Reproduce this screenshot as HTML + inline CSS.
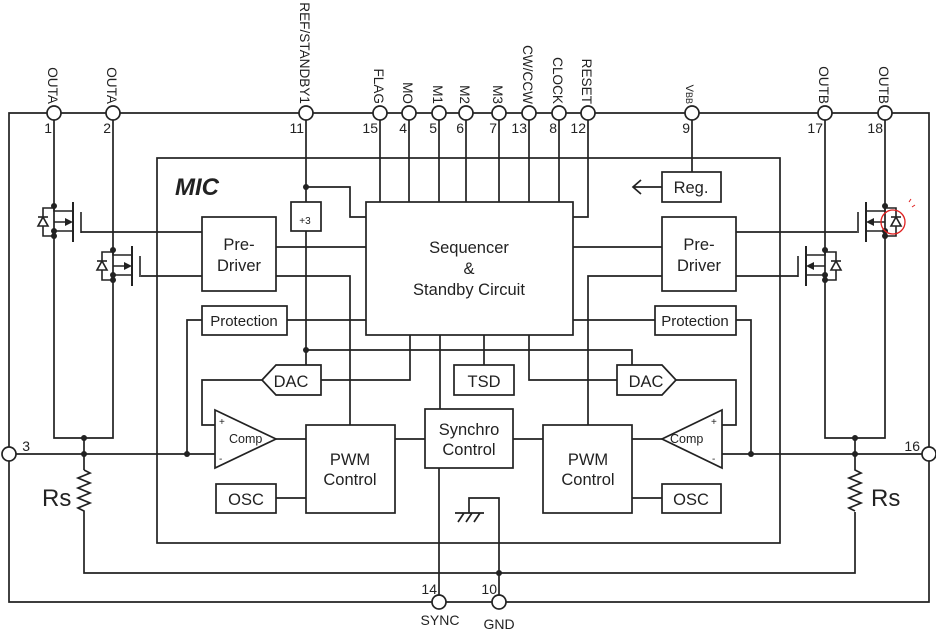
<!DOCTYPE html>
<html><head><meta charset="utf-8"><style>
html,body{margin:0;padding:0;background:#fff;}
svg{display:block;}
text{font-family:"Liberation Sans",sans-serif;fill:#222;}
</style></head><body>
<svg width="936" height="630" viewBox="0 0 936 630" xmlns="http://www.w3.org/2000/svg">
<defs>
<g id="mos" fill="none" stroke="#222" stroke-width="1.6">
  <path d="M0,0 V5 H19 M0,25 H19 M0,16 H12"/>
  <polygon points="19,16 11,12 11,20" fill="#222" stroke="none"/>
  <path d="M19,-4 V36" stroke-width="2"/>
  <path d="M27,6 V27"/>
  <path d="M0,2 H-11 V30 H0"/>
  <polygon points="-11,11 -16,20 -6,20" fill="#fff"/>
  <path d="M-16,11 H-6"/>
  <circle cx="0" cy="0" r="3" fill="#222" stroke="none"/>
  <circle cx="0" cy="25" r="3" fill="#222" stroke="none"/>
  <circle cx="0" cy="30" r="3" fill="#222" stroke="none"/>
</g>
</defs>
<g fill="none" stroke="#222" stroke-width="1.7">
<path d="M9,454 V113 H929 V602 H9 V454"/>
<rect x="157" y="158" width="623" height="385"/>
<rect x="366" y="202" width="207" height="133"/>
<path d="M380,113V202 M409,113V202 M439,113V202 M466,113V202 M499,113V202 M529,113V202 M559,113V202"/>
<path d="M588,113V217H573"/>
<path d="M306,113V202 M306,231V365 M306,187H350V217H366"/>
<rect x="291" y="202" width="30" height="29"/>
<rect x="202" y="217" width="74" height="74"/>
<path d="M276,247H366 M276,276H350V425 M202,232H81 M202,276H141"/>
<rect x="202" y="306" width="85" height="29"/>
<path d="M287,320H366 M202,320H187V454"/>
<path d="M54,113V438H113V113 M84,438V470"/>
<path d="M16,454H215"/>
<path d="M84,470 l6,3 -12,5 12,5 -12,5 12,5 -12,5 12,5 -12,5 6,3 V573 H855 V512"/>
<path d="M855,454V470 l6,3 -12,5 12,5 -12,5 12,5 -12,5 12,5 -12,5 6,3"/>
<path d="M306,350H632V365"/>
<path d="M410,335V380H321 M440,335V409 M484,335V365 M529,335V380H617"/>
<polygon points="262,380 276,365 321,365 321,395 276,395"/>
<path d="M262,380H202V425H215"/>
<polygon points="215,410 276,439 215,468"/>
<path d="M276,439H306"/>
<rect x="306" y="425" width="89" height="88"/>
<rect x="216" y="484" width="60" height="29"/>
<path d="M276,498H306"/>
<rect x="454" y="365" width="60" height="30"/>
<rect x="425" y="409" width="88" height="59"/>
<path d="M395,439H425 M513,439H543 M439,468V595"/>
<path d="M469,513V498H499V595"/>
<path d="M455,513H484 M458,522l6,-9 M466,522l6,-9 M474,522l6,-9"/>
<rect x="543" y="425" width="89" height="88"/>
<rect x="662" y="172" width="59" height="30"/>
<path d="M692,120V172 M662,187H633 M641,180l-8,7 8,7"/>
<rect x="662" y="217" width="74" height="74"/>
<path d="M573,247H662 M662,276H588V425 M736,232H857 M736,276H798"/>
<rect x="655" y="306" width="81" height="29"/>
<path d="M655,320H573 M736,320H751V454"/>
<polygon points="617,365 662,365 676,380 662,395 617,395"/>
<path d="M676,380H736V425H722"/>
<polygon points="722,410 662,439 722,468"/>
<path d="M662,439H632 M722,454H922"/>
<rect x="662" y="484" width="59" height="29"/>
<path d="M632,498H662"/>
<path d="M825,113V438H885V113 M855,438V454"/>
</g>
<use href="#mos" transform="translate(54,206)"/>
<use href="#mos" transform="translate(113,250)"/>
<use href="#mos" transform="translate(885,206) scale(-1,1)"/>
<use href="#mos" transform="translate(825,250) scale(-1,1)"/>
<g fill="#222">
<circle cx="306" cy="187" r="3"/><circle cx="306" cy="350" r="3"/>
<circle cx="84" cy="438" r="3"/><circle cx="84" cy="454" r="3"/><circle cx="187" cy="454" r="3"/>
<circle cx="855" cy="438" r="3"/><circle cx="855" cy="454" r="3"/><circle cx="751" cy="454" r="3"/>
<circle cx="499" cy="573" r="3"/>
</g>
<circle cx="893" cy="222" r="12" fill="none" stroke="#e02020" stroke-width="1.3"/>
<path d="M912,207l3,-2 M909,202l2,-3" stroke="#e02020" stroke-width="1"/>
<g fill="#fff" stroke="#222" stroke-width="1.7">
<circle cx="54" cy="113" r="7"/><circle cx="113" cy="113" r="7"/><circle cx="306" cy="113" r="7"/>
<circle cx="380" cy="113" r="7"/><circle cx="409" cy="113" r="7"/><circle cx="439" cy="113" r="7"/>
<circle cx="466" cy="113" r="7"/><circle cx="499" cy="113" r="7"/><circle cx="529" cy="113" r="7"/>
<circle cx="559" cy="113" r="7"/><circle cx="588" cy="113" r="7"/><circle cx="692" cy="113" r="7"/>
<circle cx="825" cy="113" r="7"/><circle cx="885" cy="113" r="7"/>
<circle cx="9" cy="454" r="7"/><circle cx="929" cy="454" r="7"/>
<circle cx="439" cy="602" r="7"/><circle cx="499" cy="602" r="7"/>
</g>
<g font-size="13.6" text-anchor="end">
<text transform="translate(48,104) rotate(90)">OUTA</text>
<text transform="translate(107,104) rotate(90)">OUTA</text>
<text transform="translate(300,104) rotate(90)">REF/STANDBY1</text>
<text transform="translate(374,104) rotate(90)">FLAG</text>
<text transform="translate(403,104) rotate(90)">MO</text>
<text transform="translate(433,104) rotate(90)">M1</text>
<text transform="translate(460,104) rotate(90)">M2</text>
<text transform="translate(493,104) rotate(90)">M3</text>
<text transform="translate(523,104) rotate(90)">CW/CCW</text>
<text transform="translate(553,104) rotate(90)">CLOCK</text>
<text transform="translate(582,104) rotate(90)">RESET</text>
<text transform="translate(686,104) rotate(90)" font-size="11">V<tspan font-size="9">BB</tspan></text>
<text transform="translate(819,104) rotate(90)">OUTB</text>
<text transform="translate(879,104) rotate(90)">OUTB</text>
</g>
<g font-size="14" text-anchor="end">
<text x="52" y="133">1</text><text x="111" y="133">2</text><text x="304" y="133">11</text>
<text x="378" y="133">15</text><text x="407" y="133">4</text><text x="437" y="133">5</text>
<text x="464" y="133">6</text><text x="497" y="133">7</text><text x="527" y="133">13</text>
<text x="557" y="133">8</text><text x="586" y="133">12</text><text x="690" y="133">9</text>
<text x="823" y="133">17</text><text x="883" y="133">18</text>
<text x="30" y="451">3</text><text x="920" y="451">16</text>
<text x="437" y="594">14</text><text x="497" y="594">10</text>
</g>
<g text-anchor="middle">
<text x="440" y="625" font-size="14">SYNC</text><text x="499" y="629" font-size="14">GND</text>
</g>
<text x="175" y="195" font-size="24" font-weight="bold" font-style="italic">MIC</text>
<g font-size="16.5" text-anchor="middle">
<text x="469" y="253">Sequencer</text><text x="469" y="274">&amp;</text><text x="469" y="295">Standby Circuit</text>
<text x="239" y="250">Pre-</text><text x="239" y="271">Driver</text>
<text x="699" y="250">Pre-</text><text x="699" y="271">Driver</text>
<text x="691" y="193">Reg.</text>
<text x="484" y="387">TSD</text>
<text x="469" y="435">Synchro</text><text x="469" y="455">Control</text>
<text x="350" y="465">PWM</text><text x="350" y="485">Control</text>
<text x="588" y="465">PWM</text><text x="588" y="485">Control</text>
<text x="246" y="505">OSC</text><text x="691" y="505">OSC</text>
<text x="291" y="387">DAC</text><text x="646" y="387">DAC</text>
</g>
<g font-size="15" text-anchor="middle">
<text x="244" y="326">Protection</text>
<text x="695" y="326">Protection</text>
<text x="305" y="224" font-size="10">+3</text>
</g>
<g font-size="12.5">
<text x="229" y="443">Comp</text>
<text x="670" y="443">Comp</text>
<text x="219" y="425" font-size="10">+</text><text x="219" y="462" font-size="10">-</text>
<text x="711" y="425" font-size="10">+</text><text x="712" y="462" font-size="10">-</text>
</g>
<text x="42" y="506" font-size="24">Rs</text>
<text x="871" y="506" font-size="24">Rs</text>
</svg>
</body></html>
